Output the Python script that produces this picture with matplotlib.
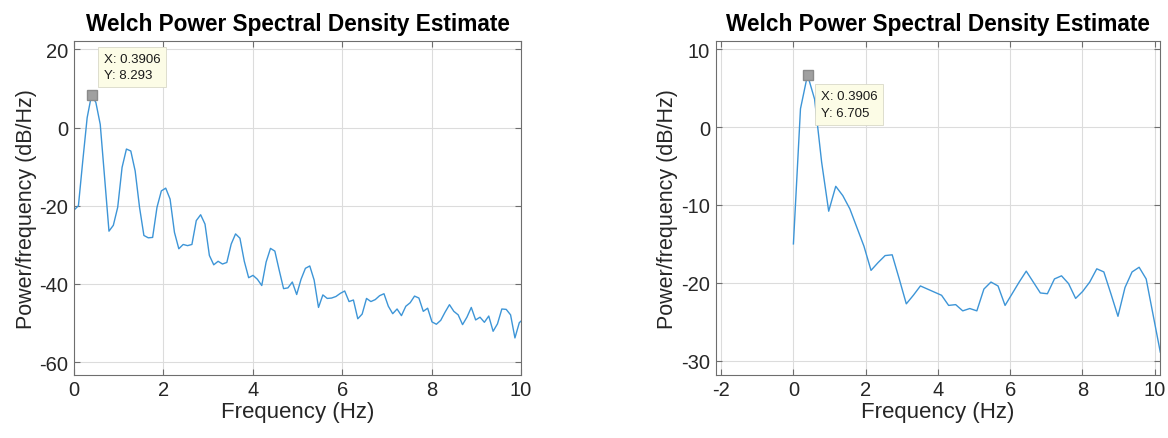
import numpy as np
import matplotlib
matplotlib.use("Agg")
import matplotlib.pyplot as plt

plt.rcParams['font.family'] = ['Liberation Sans', 'DejaVu Sans']
plt.rcParams['axes.unicode_minus'] = False

# Welch PSD estimates (dB/Hz)
df_left = 0.09765625
psd_left = [
    -21.1, -20.0, -8.5, 2.5, 8.293, 6.4, 0.8, -12.8, -26.5, -25.0,
    -20.4, -10.2, -5.5, -6.0, -11.1, -20.4, -27.6, -28.2, -28.1, -20.4,
    -16.2, -15.5, -18.3, -26.8, -31.0, -29.9, -30.2, -29.9, -23.8, -22.3,
    -24.7, -32.7, -35.1, -34.2, -34.9, -34.5, -29.8, -27.2, -28.3, -34.2,
    -38.4, -37.8, -38.8, -40.4, -34.4, -30.9, -31.6, -36.5, -41.2, -41.0,
    -39.5, -42.7, -38.8, -36.0, -35.4, -39.0, -46.0, -42.8, -43.7, -43.6,
    -43.2, -42.4, -41.8, -44.5, -44.1, -48.9, -47.7, -43.7, -44.5, -44.0,
    -43.0, -42.5, -45.7, -47.6, -46.4, -48.1, -45.7, -44.8, -43.1, -43.6,
    -47.0, -46.2, -49.7, -50.3, -49.3, -47.2, -45.3, -47.0, -47.9, -50.4,
    -48.5, -46.0, -49.2, -48.5, -49.8, -48.2, -52.1, -50.2, -46.4, -46.5,
    -47.9, -53.8, -49.9, -48.9,
]

df_right = 0.1953125
psd_right = [
    -15.0, 2.35, 6.705, 3.6, -4.5, -10.8, -7.6, -8.8, -10.5, -12.9,
    -15.3, -18.4, -17.4, -16.5, -16.4, -19.5, -22.7, -21.6, -20.4, -20.8,
    -21.2, -21.6, -22.9, -22.8, -23.6, -23.3, -23.6, -20.8, -19.9, -20.4,
    -22.9, -21.4, -19.9, -18.5, -19.9, -21.3, -21.4, -19.5, -19.1, -20.1,
    -22.0, -21.1, -19.9, -18.2, -18.6, -21.4, -24.3, -20.6, -18.6, -18.0,
    -19.5, -24.2, -28.9,
]

tip_left = (0.3906, 8.293)
tip_right = (0.3906, 6.705)

freq_left = np.arange(len(psd_left)) * df_left
freq_right = np.arange(len(psd_right)) * df_right

line_color = '#3d95d7'
spine_color = '#6e6e6e'
text_color = '#262626'


def style_axes(ax):
    ax.grid(True, color='#dcdcdc', linewidth=0.8)
    ax.set_axisbelow(True)
    for s in ax.spines.values():
        s.set_color(spine_color)
        s.set_linewidth(0.8)
    ax.tick_params(direction='in', length=4, width=0.8, color=spine_color,
                   top=True, right=True, labelsize=14.5, labelcolor=text_color,
                   pad=4)
    ax.set_title('Welch Power Spectral Density Estimate', fontsize=16.3,
                 fontweight='bold', pad=8)
    ax.set_xlabel('Frequency (Hz)', fontsize=16, color=text_color, labelpad=1)
    ax.set_ylabel('Power/frequency (dB/Hz)', fontsize=15.5, color=text_color,
                  labelpad=2)


def add_tip(ax, tip, offset):
    ax.plot(tip[0], tip[1], marker='s', markersize=7, color='#a0a0a0',
            markeredgecolor='#8a8a8a', zorder=5)
    ax.annotate('X: %.4f\nY: %.3f' % tip, xy=tip, xytext=offset,
                textcoords='offset pixels', fontsize=9.5, linespacing=1.5,
                ha='left', va='bottom', color='#1a1a1a', zorder=6,
                bbox=dict(boxstyle='square,pad=0.45', fc='#fcfce6',
                          ec='#d8d8c8', lw=0.6))


fig = plt.figure(figsize=(11.68, 4.39), dpi=100)
ax1 = fig.add_axes([0.0634, 0.1442, 0.3827, 0.7608])
ax2 = fig.add_axes([0.6128, 0.1442, 0.3804, 0.7608])

ax1.plot(freq_left, psd_left, color=line_color, linewidth=1.0)
ax1.set_xlim(0, 10)
ax1.set_ylim(-63.2, 22.2)
ax1.set_xticks([0, 2, 4, 6, 8, 10])
ax1.set_yticks([-60, -40, -20, 0, 20])
style_axes(ax1)
add_tip(ax1, tip_left, (12, 14))

ax2.plot(freq_right, psd_right, color=line_color, linewidth=1.0)
ax2.set_xlim(-2.15, 10.15)
ax2.set_ylim(-31.8, 11.1)
ax2.set_xticks([-2, 0, 2, 4, 6, 8, 10])
ax2.set_yticks([-30, -20, -10, 0, 10])
style_axes(ax2)
add_tip(ax2, tip_right, (13, -44))

fig.savefig('out.png', dpi=100)
